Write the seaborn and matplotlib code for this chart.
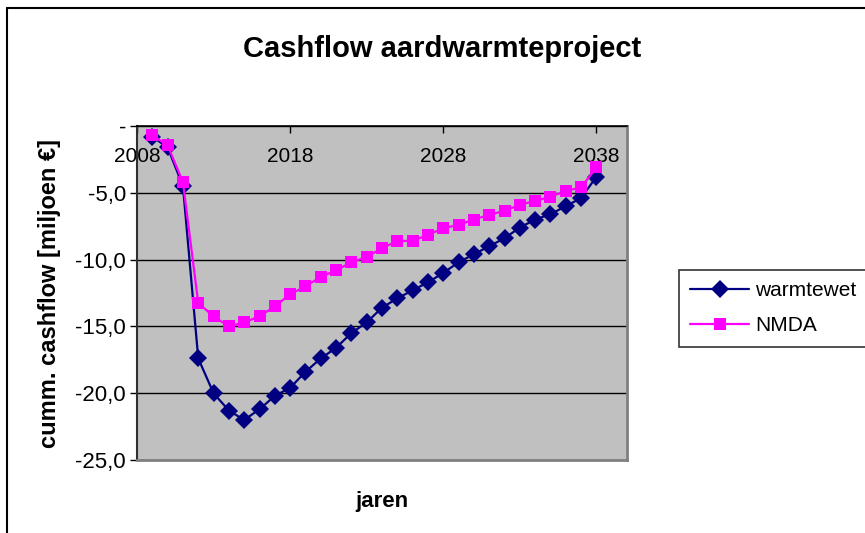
import pandas as pd
import matplotlib.pyplot as plt
import seaborn as sns
from matplotlib.lines import Line2D

years = list(range(2009, 2039))
warmtewet = [-0.8, -1.6, -4.5, -17.4, -20.0, -21.3, -22.0, -21.2, -20.2, -19.6,
             -18.4, -17.4, -16.6, -15.5, -14.7, -13.6, -12.9, -12.3, -11.7, -11.0,
             -10.2, -9.6, -9.0, -8.4, -7.6, -7.0, -6.6, -6.0, -5.4, -3.8]
nmda = [-0.7, -1.45, -4.2, -13.25, -14.25, -15.0, -14.7, -14.25, -13.5, -12.6,
        -12.0, -11.3, -10.8, -10.2, -9.8, -9.15, -8.6, -8.6, -8.15, -7.65,
        -7.4, -7.0, -6.65, -6.35, -5.9, -5.6, -5.3, -4.85, -4.6, -3.1]
series_names = ["warmtewet", "NMDA"]
x_ticks = [2008, 2018, 2028, 2038]
y_ticks = [-25, -20, -15, -10, -5, 0]
y_tick_labels = ["-25,0", "-20,0", "-15,0", "-10,0", "-5,0", "-"]

df = pd.DataFrame({
    "jaar": years * 2,
    "cashflow": warmtewet + nmda,
    "reeks": [series_names[0]] * len(years) + [series_names[1]] * len(years),
})

sns.set_style("white")
plt.rcParams["font.family"] = ["Liberation Sans", "DejaVu Sans"]
plt.rcParams["text.color"] = "black"
plt.rcParams["axes.labelcolor"] = "black"
plt.rcParams["xtick.color"] = "black"
plt.rcParams["ytick.color"] = "black"

fig = plt.figure(figsize=(8.65, 5.33), dpi=100)
ax = fig.add_axes([137 / 865, 1 - 460 / 533, 490 / 865, 334 / 533])
ax.set_facecolor("#C0C0C0")

sns.lineplot(data=df, x="jaar", y="cashflow", hue="reeks", style="reeks",
             palette={"warmtewet": "#000080", "NMDA": "#FF00FF"},
             markers={"warmtewet": "D", "NMDA": "s"}, dashes=False,
             markersize=9, markeredgewidth=0, linewidth=1.6, ax=ax)

ax.set_xlim(2008, 2040)
ax.set_ylim(-25, 0)
ax.set_xticks(x_ticks)
ax.set_xticklabels([str(v) for v in x_ticks])
ax.set_yticks(y_ticks)
ax.set_yticklabels(y_tick_labels)

ax.yaxis.grid(True, color="black", linewidth=1)
ax.xaxis.grid(False)

ax.tick_params(axis="x", top=True, bottom=False, labeltop=True, labelbottom=False,
               direction="in", length=5, width=1, color="black",
               labelsize=15, pad=-29)
ax.tick_params(axis="y", left=True, direction="out", length=5, width=1,
               color="black", labelsize=16, pad=3)

for side in ["right", "bottom"]:
    ax.spines[side].set_color("#808080")
    ax.spines[side].set_linewidth(2)
ax.spines["left"].set_color("#303030")
ax.spines["left"].set_linewidth(1.5)
ax.spines["top"].set_color("black")
ax.spines["top"].set_linewidth(1.2)

ax.set_xlabel("jaren", fontsize=16, fontweight="bold", labelpad=22)
ax.set_ylabel("cumm. cashflow [miljoen €]", fontsize=17, fontweight="bold", labelpad=10)

fig.suptitle("Cashflow aardwarmteproject", x=0.511, y=1 - 49 / 533, va="center",
             fontsize=21, fontweight="bold")

leg = ax.legend(loc="upper left", bbox_to_anchor=(679 / 865, 1 - 270 / 533),
                bbox_transform=fig.transFigure, borderaxespad=0, frameon=True,
                fancybox=False, edgecolor="black", fontsize=15, handlelength=2.8,
                handletextpad=0.3, title=None, borderpad=0.55, labelspacing=0.75)
leg.get_frame().set_linewidth(1.2)

fig.add_artist(Line2D([7.5 / 865, 7.5 / 865], [0, 1 - 8 / 533], color="black",
                      linewidth=1.5, transform=fig.transFigure))
fig.add_artist(Line2D([7.5 / 865, 1], [1 - 8 / 533, 1 - 8 / 533], color="black",
                      linewidth=1.5, transform=fig.transFigure))

fig.savefig("out.png", dpi=100)
